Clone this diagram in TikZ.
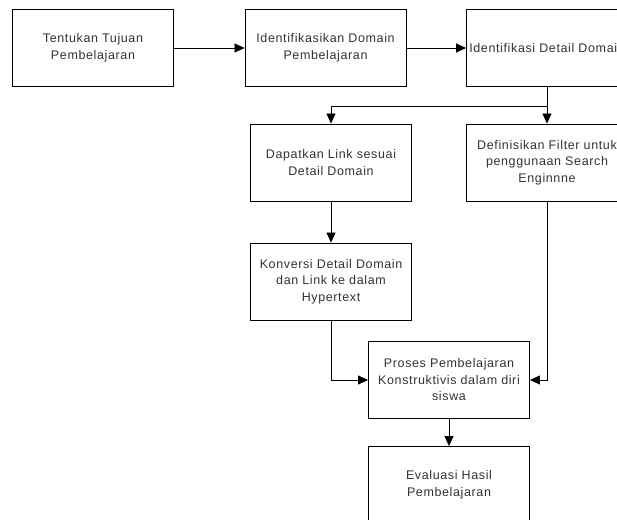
\documentclass[tikz,border=0pt]{standalone}
\usepackage{fontspec}
\setmainfont{Liberation Sans}
\newfontfamily\huruf[LetterSpace=5]{Liberation Sans}
\usetikzlibrary{arrows.meta,calc}
\newcommand{\lebar}{161}
\newcommand{\tinggi}{77}

\tikzset{
  kotak/.style={draw=black,line width=0.9pt,fill=white,
    minimum width=\lebar pt,minimum height=\tinggi pt,
    inner sep=0pt,align=center,text=black!80,
    font=\huruf\fontsize{12.5}{16.5}\selectfont},
  panah/.style={-{Triangle[length=10pt,width=9pt]},line width=0.8pt},
}

\begin{document}
\begin{tikzpicture}[x=1pt,y=-1pt]
\useasboundingbox (0,0) rectangle (617,519);
\clip (0,0) rectangle (617,519);

\node[kotak] (tujuan) at (93,48) {Tentukan Tujuan\\Pembelajaran};
\node[kotak] (domain) at (325.5,48) {Identifikasikan Domain\\Pembelajaran};
\node[kotak] (detail) at (547,48) {Identifikasi Detail Domain};
\node[kotak] (link) at (331,162.5) {Dapatkan Link sesuai\\Detail Domain};
\node[kotak] (filter) at (547,162.5) {Definisikan Filter untuk\\penggunaan Search\\Enginnne};
\node[kotak] (konversi) at (331,281.5) {Konversi Detail Domain\\dan Link ke dalam\\Hypertext};
\node[kotak] (proses) at (449,380) {Proses Pembelajaran\\Konstruktivis dalam diri\\siswa};
\node[kotak] (evaluasi) at (449,485) {Evaluasi Hasil\\Pembelajaran};

\coordinate (cabang) at ($(detail.south)+(0,19)$);

\draw[panah] (tujuan) -- (domain);
\draw[panah] (domain) -- (detail);
\draw[panah] (detail) -- (filter);
\draw[panah] (cabang) -| (link);
\draw[panah] (link) -- (konversi);
\draw[panah] (konversi.south) |- (proses.west);
\draw[panah] (filter.south) |- (proses.east);
\draw[panah] (proses) -- (evaluasi);
\end{tikzpicture}
\end{document}
